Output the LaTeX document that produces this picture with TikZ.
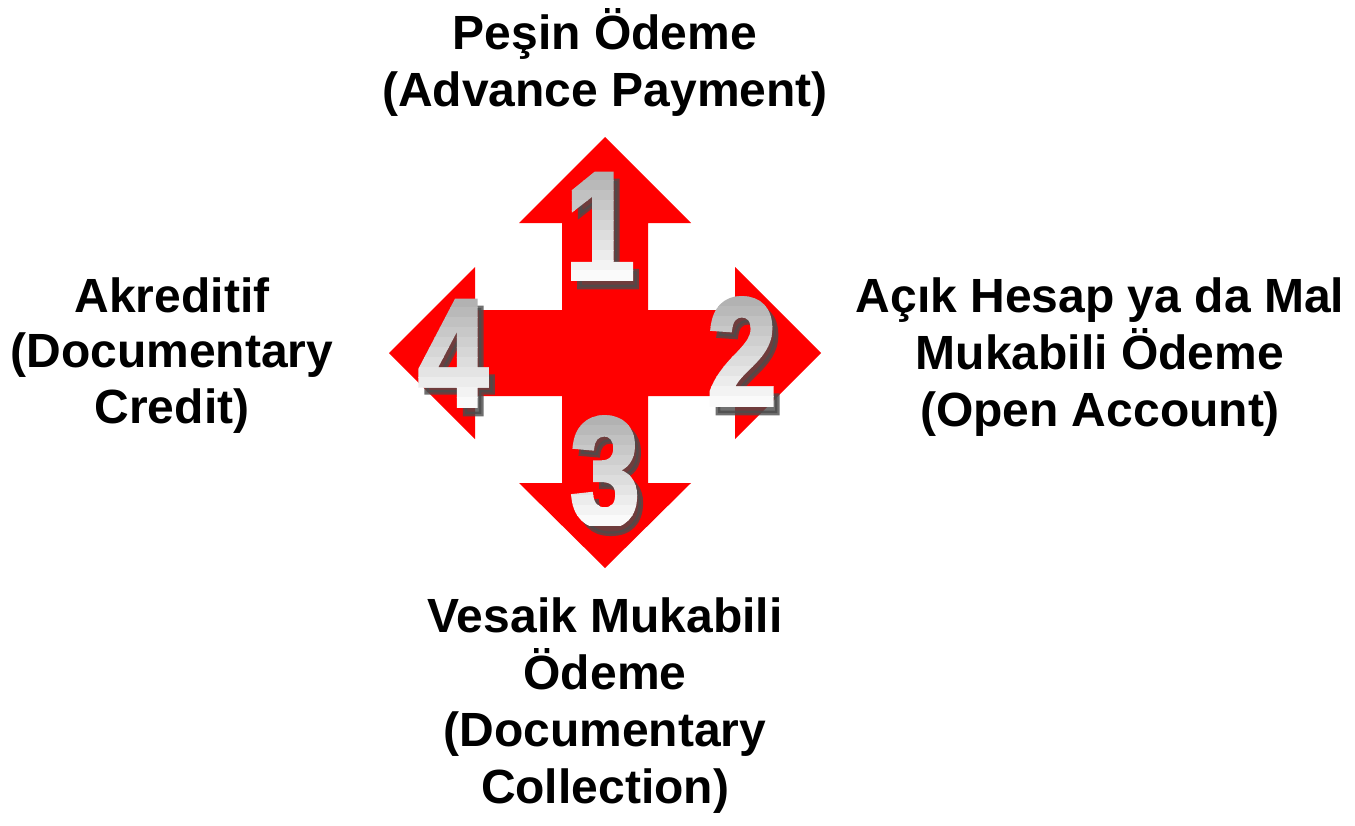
\documentclass[tikz,border=0pt]{standalone}
\usepackage{fontspec}
\setmainfont{Liberation Sans}
\newfontfamily\digitfont{Liberation Sans}[FakeStretch=0.8, BoldFeatures={FakeBold=3}]
\begin{document}
\begin{tikzpicture}[x=1pt,y=-1pt,
  lbl/.style={font=\fontsize{48}{57.5}\selectfont\bfseries, anchor=base, inner sep=0pt, text=black},
  digit/.style={font=\digitfont\fontsize{154}{160}\selectfont\bfseries, anchor=base, inner sep=0pt},
  crossfill/.style={fill={rgb,255:red,255;green,0;blue,0}, draw=none}]
\useasboundingbox (0,0) rectangle (1355,825);
\definecolor{shadowc}{RGB}{75,75,75}
% cross of four arrows
\fill[crossfill] (605,137) -- (691,223) -- (648,223) -- (648,310) -- (735,310) -- (735,267)
  -- (821,353) -- (735,439) -- (735,396) -- (648,396) -- (648,483) -- (691,483)
  -- (605,568) -- (519,483) -- (562,483) -- (562,396) -- (475,396) -- (475,439)
  -- (389,353) -- (475,267) -- (475,310) -- (562,310) -- (562,223) -- (519,223) -- cycle;
% digits with shadow and gradient
\newcommand\bigdigit[4]{%
  \node[digit, text=shadowc, text opacity=.8] (#1s) at (#2+6,#3+7) {#4};
  \foreach \i in {0,...,11}{%
    \pgfmathsetmacro\pct{33-31*\i/11}%
    \begin{scope}
      \clip (#2-70,#3-120+\i*10) rectangle (#2+70,#3-120+\i*10+10.6);
      \node[digit, text=black!\pct] (#1g\i) at (#2,#3) {#4};
    \end{scope}
  }%
}
\bigdigit{one}{600}{280}{1}
\bigdigit{two}{742}{406}{2}
\bigdigit{three}{605}{525}{3}
\bigdigit{four}{453}{407}{4}
% labels
\node[lbl] (t1) at (605,49) {Peşin Ödeme};
\node[lbl] (t2) at (605,106) {(Advance Payment)};
\node[lbl] (l1) at (172,312) {Akreditif};
\node[lbl] (l2) at (172,367) {(Documentary};
\node[lbl] (l3) at (172,423) {Credit)};
\node[lbl] (r1) at (1100,312) {Açık Hesap ya da Mal};
\node[lbl] (r2) at (1100,369) {Mukabili Ödeme};
\node[lbl] (r3) at (1100,426) {(Open Account)};
\node[lbl] (b1) at (605,632) {Vesaik Mukabili};
\node[lbl] (b2) at (605,689) {Ödeme};
\node[lbl] (b3) at (605,746) {(Documentary};
\node[lbl] (b4) at (605,803) {Collection)};
\end{tikzpicture}
\end{document}
